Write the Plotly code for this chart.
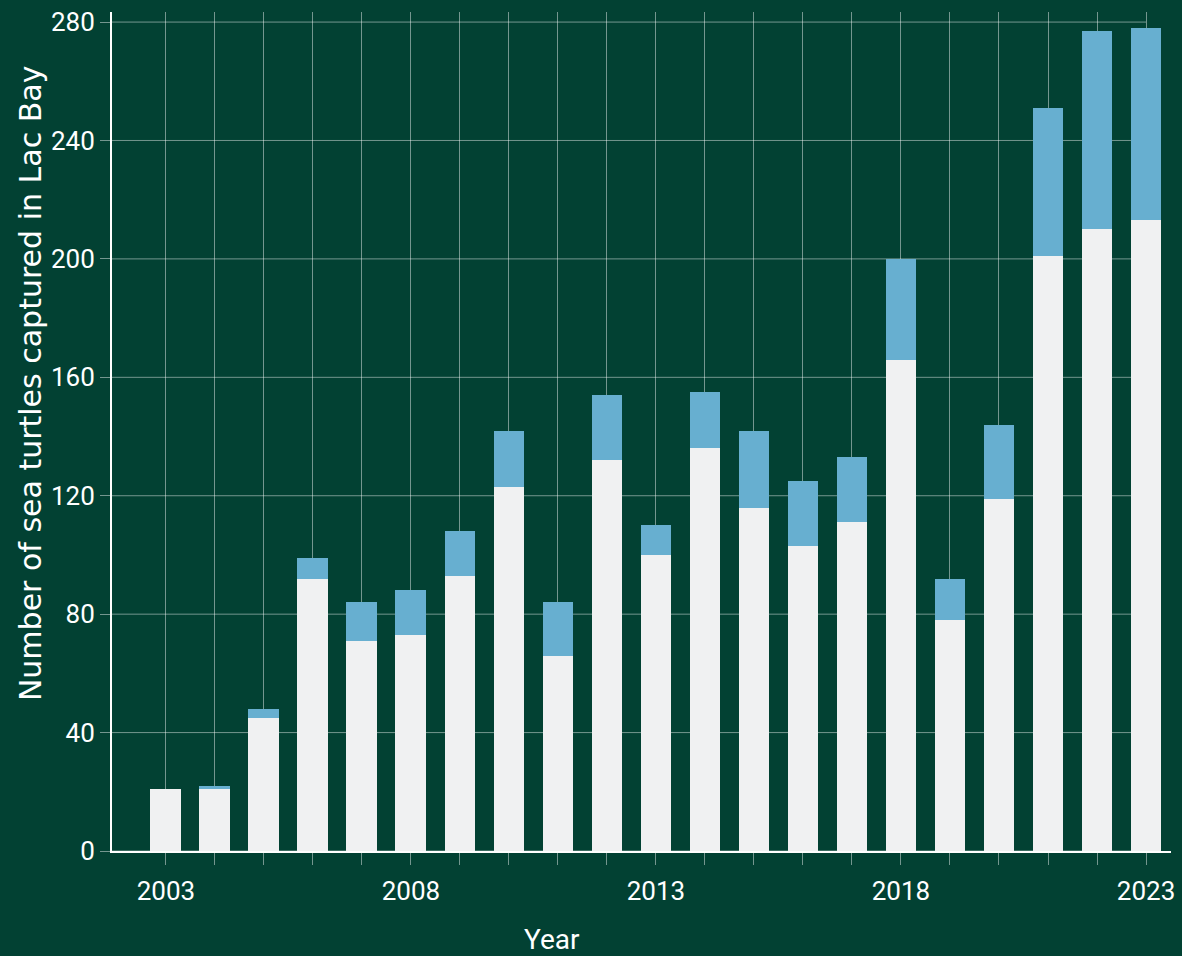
import plotly.graph_objects as go

years = list(range(2003, 2024))
base_counts = [21, 21, 45, 92, 71, 73, 93, 123, 66, 132, 100, 136, 116, 103, 111, 166, 78, 119, 201, 210, 213]
top_counts = [0, 1, 3, 7, 13, 15, 15, 19, 18, 22, 10, 19, 26, 22, 22, 34, 14, 25, 50, 67, 65]
label_years = [2003, 2008, 2013, 2018, 2023]
y_ticks = [0, 40, 80, 120, 160, 200, 240, 280]

BG = "#024133"
GRID = "rgba(255,255,255,0.45)"
FONT = "Roboto, 'DejaVu Sans', sans-serif"

fig = go.Figure()
fig.add_trace(go.Bar(x=years, y=base_counts, name="base", marker=dict(color="#F0F1F2", line=dict(width=0)), width=0.63))
fig.add_trace(go.Bar(x=years, y=top_counts, name="top", marker=dict(color="#67AFD0", line=dict(width=0)), width=0.63))

x_range = [2001.9, 2023.51]
for v in y_ticks:
    fig.add_shape(type="line", xref="x", yref="y", x0=x_range[0], x1=years[-1], y0=v, y1=v,
                  line=dict(color=GRID, width=1), layer="below")

fig.update_layout(
    barmode="stack",
    width=1182, height=956,
    paper_bgcolor=BG, plot_bgcolor=BG,
    margin=dict(l=112, r=7, t=7, b=105),
    showlegend=False,
    font=dict(family=FONT, color="white", size=26),
)
fig.update_xaxes(
    range=x_range,
    tickmode="array",
    tickvals=years,
    ticktext=[str(y) if y in label_years else "" for y in years],
    showgrid=True, gridcolor=GRID, gridwidth=1,
    ticks="outside", ticklen=12, tickcolor=GRID, tickwidth=1,
    showline=True, linecolor="white", linewidth=2,
    zeroline=False,
    tickfont=dict(size=26, color="white"),
    ticklabelstandoff=4,
)
fig.update_yaxes(
    range=[0, 283.4],
    tickmode="array", tickvals=y_ticks,
    showgrid=False,
    ticks="outside", ticklen=10, tickcolor=GRID, tickwidth=1,
    showline=True, linecolor="white", linewidth=2,
    zeroline=False,
    tickfont=dict(size=26, color="white"),
)
fig.add_annotation(text="Number of sea turtles captured in Lac Bay", textangle=-90,
                   xref="paper", yref="paper", x=(30 - 112) / 1063, y=(851 - 381) / 844,
                   xanchor="center", yanchor="middle", showarrow=False,
                   font=dict(size=30, color="white", family="'DejaVu Sans', sans-serif"))
fig.add_annotation(text="Year", xref="paper", yref="paper", x=(554 - 112) / 1063, y=(851 - 940) / 844,
                   xanchor="center", yanchor="middle", showarrow=False,
                   font=dict(size=28, color="white", family=FONT))

fig.write_html("out.html", config={"displayModeBar": False},
               post_script="document.body.style.margin='0';document.body.style.overflow='hidden';")
